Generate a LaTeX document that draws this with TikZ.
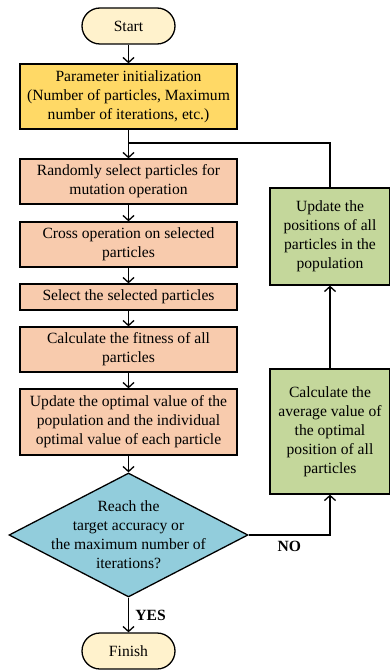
\documentclass[tikz,border=0pt]{standalone}
\usepackage{fontspec}
\setmainfont{Liberation Serif}
\usetikzlibrary{arrows.meta,shapes.geometric}
\definecolor{termfill}{RGB}{255,242,204}
\definecolor{initfill}{RGB}{255,217,102}
\definecolor{stepfill}{RGB}{248,203,173}
\definecolor{askfill}{RGB}{146,205,220}
\definecolor{loopfill}{RGB}{196,215,155}
\begin{document}
\begin{tikzpicture}[x=1pt, y=-1pt, line width=1.3pt,
	every node/.style={font=\fontsize{15.6}{19}\selectfont, align=center},
	term/.style={draw, fill=termfill, rounded corners=18pt, minimum width=93pt, minimum height=36pt},
	stepbox/.style={draw, fill=stepfill, minimum width=217pt, inner sep=0pt},
	loopbox/.style={draw, fill=loopfill, minimum width=120pt, inner sep=0pt},
	ar/.style={-{Straight Barb[length=5pt,width=11pt]}}]
		\useasboundingbox (0,0) rectangle (390,671);
		
		\node[term] (start) at (128.5,26) {Start};
		\node[stepbox, fill=initfill, minimum height=65pt] (init) at (128.5,96.5) {Parameter initialization\\(Number of particles, Maximum\\number of iterations, etc.)};
		\node[stepbox, minimum height=45pt] (rand) at (128.5,181.5) {Randomly select particles for\\mutation operation};
		\node[stepbox, minimum height=45pt] (cross) at (128.5,244.5) {Cross operation on selected\\particles};
		\node[stepbox, minimum height=26pt] (sel) at (128.5,297) {Select the selected particles};
		\node[stepbox, minimum height=45pt] (fit) at (128.5,349.5) {Calculate the fitness of all\\particles};
		\node[stepbox, minimum height=66pt] (upd) at (128.5,422) {Update the optimal value of the\\population and the individual\\optimal value of each particle};
		\node[draw, diamond, fill=askfill, minimum width=239pt, minimum height=124pt, inner sep=0pt] (ask) at (128.5,535) {};
		\node (asktext) at (ask) {Reach the\\target accuracy or\\the maximum number of\\iterations?};
		\node[term] (finish) at (128.5,651) {Finish};
		
		\node[loopbox, minimum height=125pt] (avg) at (330,431.5) {Calculate the\\average value of\\the optimal\\position of all\\particles};
		\node[loopbox, minimum height=97pt] (pos) at (330,236.5) {Update the\\positions of all\\particles in the\\population};
		\coordinate (join) at (128.5,143);
		
		\foreach \a/\b in {start/init, init/rand, rand/cross, cross/sel, sel/fit, fit/upd, upd/ask}
		{
			\draw[ar] (\a) -- (\b);
		}
		\draw[ar] (ask) -- (finish) node[midway, right=3pt] {\textbf{YES}};
		\draw[ar] (ask.east) -| (avg.south) node[pos=0.25, below=2pt] {\textbf{NO}};
		\draw[ar] (avg) -- (pos);
		\draw (pos.north) |- (join);
	\end{tikzpicture}
\end{document}
